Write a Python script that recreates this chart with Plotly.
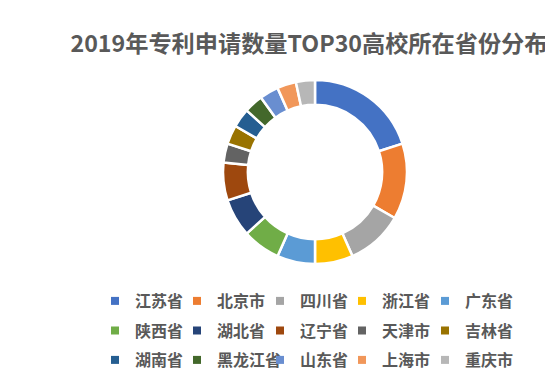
import plotly.graph_objects as go

provinces = ["江苏省", "北京市", "四川省", "浙江省", "广东省",
             "陕西省", "湖北省", "辽宁省", "天津市", "吉林省",
             "湖南省", "黑龙江省", "山东省", "上海市", "重庆市"]
counts = [6, 4, 3, 2, 2, 2, 2, 2, 1, 1, 1, 1, 1, 1, 1]
colors = ["#4472C4", "#ED7D31", "#A5A5A5", "#FFC000", "#5B9BD5",
          "#70AD47", "#264478", "#9E480E", "#636363", "#997300",
          "#255E91", "#43682B", "#698ED0", "#F1975A", "#B7B7B7"]
title_text = "2019年专利申请数量TOP30高校所在省份分布"

W, H = 553, 378
cx, cy, r = 307, 164, 92

fig = go.Figure()
fig.add_trace(go.Pie(
    labels=provinces, values=counts, sort=False, direction="clockwise",
    rotation=0, hole=0.73, textinfo="none", hoverinfo="label+value",
    marker=dict(colors=colors, line=dict(color="white", width=2.5)),
    showlegend=False,
    domain=dict(x=[(cx - r) / W, (cx + r) / W],
                y=[(H - cy - r) / H, (H - cy + r) / H]),
))

# legend grid: 3 rows x 5 columns, one small legend per entry
col_x = [87, 169, 252, 334, 417]
row_y = [293, 322.5, 352]
font_family = "Noto Sans CJK SC, Noto Sans, sans-serif"
leg_font = dict(family=font_family, size=16, color="#595959", weight="bold")

layout_legs = {}
for i, (name, col) in enumerate(zip(provinces, colors)):
    lid = "legend" if i == 0 else f"legend{i + 1}"
    fig.add_trace(go.Scatter(
        x=[None], y=[None], mode="markers", name=name,
        marker=dict(symbol="square", size=8, color=col),
        legend=lid, showlegend=True,
    ))
    row, c = divmod(i, 5)
    layout_legs[lid] = dict(orientation="h", xanchor="left", yanchor="middle",
                            x=col_x[c] / W, y=1 - row_y[row] / H,
                            itemwidth=30, bgcolor="rgba(0,0,0,0)",
                            font=leg_font)

fig.update_layout(
    width=W, height=H,
    margin=dict(l=0, r=0, t=0, b=0),
    paper_bgcolor="white", plot_bgcolor="white",
    title=dict(text=title_text, x=301 / W, xanchor="center",
               y=1 - 35.5 / H, yanchor="middle",
               font=dict(family=font_family, size=23.2, color="#595959",
                         weight="bold")),
    xaxis=dict(visible=False), yaxis=dict(visible=False),
    **layout_legs,
)

fig.write_html("out.html")
